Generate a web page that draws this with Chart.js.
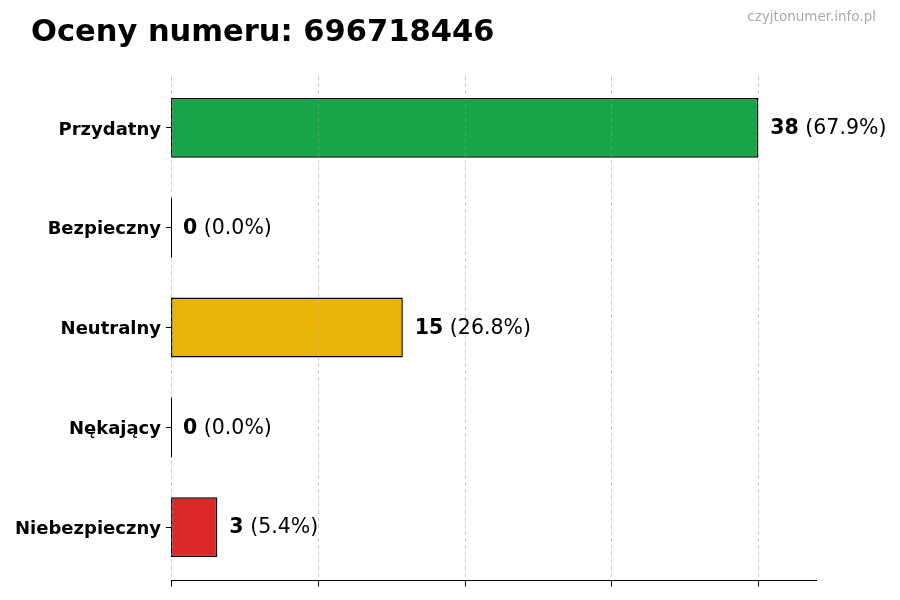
<!DOCTYPE html>
<html>
<head>
<meta charset="utf-8">
<script src="https://cdn.jsdelivr.net/npm/chart.js@4/dist/chart.umd.min.js"></script>
<style>
html,body{margin:0;padding:0;background:#fff;}
canvas{display:block;}
</style>
</head>
<body>
<canvas id="c" width="900" height="600"></canvas>
<script>
const titleText = 'Oceny numeru: 696718446';
const watermark = 'czyjtonumer.info.pl';
const categories = ['Przydatny', 'Bezpieczny', 'Neutralny', 'Nękający', 'Niebezpieczny'];
const counts = [38, 0, 15, 0, 3];
const barColors = ['#18a54a', '#18a54a', '#e9b509', '#888888', '#dc2828'];
const xTickValues = [0, 9.5, 19, 28.5, 38];
const xMax = 41.8;

const total = counts.reduce((a, b) => a + b, 0);
const FONT = '"DejaVu Sans", sans-serif';

function drawGrid(chart, color) {
  const ctx = chart.ctx, xs = chart.scales.x, a = chart.chartArea;
  ctx.save();
  ctx.strokeStyle = color;
  ctx.lineWidth = 1;
  ctx.setLineDash([4, 3]);
  xTickValues.forEach(v => {
    const x = Math.round(xs.getPixelForValue(v)) + 0.5;
    ctx.beginPath();
    ctx.moveTo(x, a.top - 2);
    ctx.lineTo(x, a.bottom + 3);
    ctx.stroke();
  });
  ctx.restore();
}

const overlay = {
  id: 'overlay',
  beforeDatasetsDraw(chart) {
    drawGrid(chart, 'rgba(176,176,176,0.55)');
  },
  afterDatasetsDraw(chart) {
    const ctx = chart.ctx;
    const meta = chart.getDatasetMeta(0);
    const xs = chart.scales.x;
    const a = chart.chartArea;
    drawGrid(chart, 'rgba(200,200,200,0.25)');
    ctx.save();
    const yAxis = Math.round(a.bottom + 3) + 0.5;
    ctx.strokeStyle = '#000';
    ctx.lineWidth = 1;
    ctx.beginPath();
    ctx.moveTo(a.left, yAxis);
    ctx.lineTo(a.right, yAxis);
    ctx.stroke();
    xTickValues.forEach(v => {
      const x = Math.round(xs.getPixelForValue(v)) + 0.5;
      ctx.beginPath();
      ctx.moveTo(x, yAxis);
      ctx.lineTo(x, yAxis + 6);
      ctx.stroke();
    });
    meta.data.forEach((bar, i) => {
      const v = counts[i];
      const half = bar.height / 2;
      if (v === 0) {
        ctx.strokeStyle = '#000';
        ctx.lineWidth = 1;
        ctx.beginPath();
        const x0 = Math.round(xs.getPixelForValue(0)) + 0.5;
        ctx.moveTo(x0, bar.y - half);
        ctx.lineTo(x0, bar.y + half);
        ctx.stroke();
      }
      const pct = total ? (v / total * 100).toFixed(1) : '0.0';
      let x = bar.x + 12;
      ctx.textBaseline = 'middle';
      ctx.textAlign = 'left';
      ctx.fillStyle = '#000';
      ctx.font = 'bold 20.5px ' + FONT;
      const s1 = String(v);
      ctx.fillText(s1, x, bar.y + 1);
      x += ctx.measureText(s1).width;
      ctx.font = '20.5px ' + FONT;
      ctx.fillText(' (' + pct + '%)', x, bar.y + 1);
    });
    ctx.restore();
  },
  afterDraw(chart) {
    const ctx = chart.ctx;
    ctx.save();
    ctx.fillStyle = '#000';
    ctx.textAlign = 'left';
    ctx.textBaseline = 'alphabetic';
    ctx.font = 'bold 30.5px ' + FONT;
    ctx.fillText(titleText, 31, 41);
    ctx.fillStyle = '#aaaaaa';
    ctx.textAlign = 'right';
    ctx.font = '13.5px ' + FONT;
    ctx.fillText(watermark, 876, 21);
    ctx.restore();
  }
};

new Chart(document.getElementById('c'), {
  type: 'bar',
  data: {
    labels: categories,
    datasets: [{
      data: counts,
      backgroundColor: barColors,
      borderColor: '#000',
      borderWidth: 1.5,
      borderSkipped: false,
      categoryPercentage: 1,
      barPercentage: 0.6
    }]
  },
  options: {
    indexAxis: 'y',
    responsive: false,
    animation: false,
    devicePixelRatio: 1,
    layout: { padding: { top: 78, right: 83, bottom: 23, left: 0 } },
    plugins: { legend: { display: false }, tooltip: { enabled: false }, title: { display: false } },
    scales: {
      x: {
        type: 'linear',
        min: 0,
        max: xMax,
        afterBuildTicks(axis) { axis.ticks = xTickValues.map(v => ({ value: v })); },
        afterFit(axis) { axis.height = 0; },
        ticks: { display: false },
        grid: { display: false },
        border: { display: false }
      },
      y: {
        afterFit(axis) { axis.width = 171; },
        ticks: {
          color: '#000',
          font: { family: FONT, size: 18, weight: 'bold' },
          padding: 5,
          labelOffset: 2
        },
        grid: { offset: false, drawOnChartArea: false, drawTicks: true, tickLength: 5, tickColor: '#000' },
        border: { display: false }
      }
    }
  },
  plugins: [overlay]
});
</script>
</body>
</html>
